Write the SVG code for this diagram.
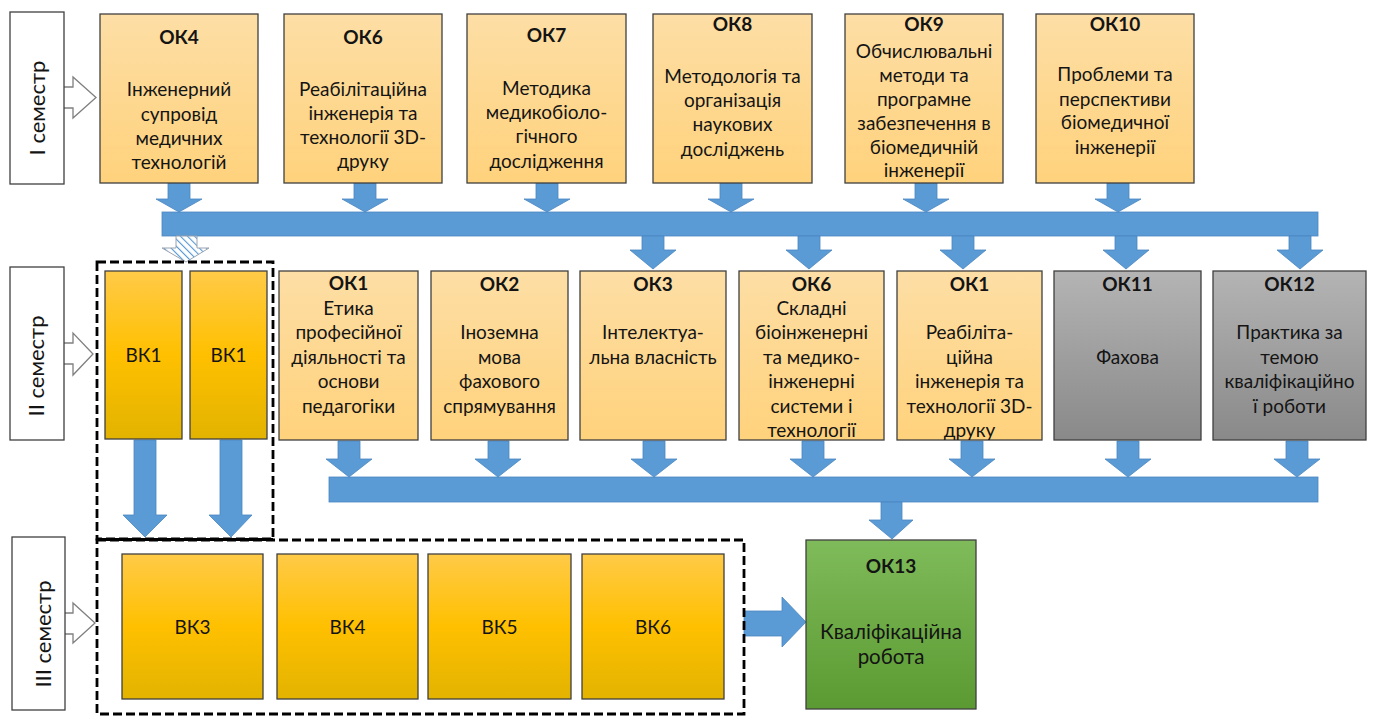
<svg xmlns="http://www.w3.org/2000/svg" width="1376" height="716" viewBox="0 0 1376 716">
<defs>
<linearGradient id="gOr" x1="0" y1="0" x2="0" y2="1"><stop offset="0" stop-color="#FDDEA5"/><stop offset="1" stop-color="#FFD27C"/></linearGradient>
<linearGradient id="gGold" x1="0" y1="0" x2="0" y2="1"><stop offset="0" stop-color="#FFCA48"/><stop offset="0.5" stop-color="#FFC000"/><stop offset="1" stop-color="#E2B300"/></linearGradient>
<linearGradient id="gGray" x1="0" y1="0" x2="0" y2="1"><stop offset="0" stop-color="#B4B4B4"/><stop offset="1" stop-color="#898989"/></linearGradient>
<linearGradient id="gGreen" x1="0" y1="0" x2="0" y2="1"><stop offset="0" stop-color="#7FBB5A"/><stop offset="1" stop-color="#5B9A32"/></linearGradient>
<pattern id="hatch" patternUnits="userSpaceOnUse" width="5" height="5" patternTransform="rotate(-45)"><rect width="5" height="5" fill="#FFFFFF"/><line x1="0" y1="0" x2="0" y2="5" stroke="#5B9BD5" stroke-width="2.2"/></pattern>
</defs>
<style>
text{font-family:Lato,"Noto Sans","Liberation Sans",sans-serif;fill:#141414;text-anchor:middle;font-size:19px}
.t{font-weight:bold;font-size:19px}
.bk{font-size:19px}
.big{font-size:20.5px}
.sem{font-size:22px}
.or{fill:url(#gOr);stroke:#404040;stroke-width:1.3}
.gold{fill:url(#gGold);stroke:#404040;stroke-width:1.3}
.gray{fill:url(#gGray);stroke:#404040;stroke-width:1.3}
.green{fill:url(#gGreen);stroke:#404040;stroke-width:1.3}
.semb{fill:#FFFFFF;stroke:#404040;stroke-width:1.3}
.sarr{fill:#FFFFFF;stroke:#7F7F7F;stroke-width:1.3}
.arr{fill:#5B9BD5;stroke:#4A86C0;stroke-width:0.8}
.dash{fill:none;stroke:#000000;stroke-width:2.8;stroke-dasharray:9 4}
</style>

<g id="semesters">
<path class="sarr" d="M64,87 H73 V77 L96,97.5 L73,118 V108 H64"/>
<rect class="semb" x="10" y="12" width="54" height="172"/>
<text class="sem" transform="translate(45,108) rotate(-90)">І семестр</text>
<path class="sarr" d="M64,343 H73 V333 L93,354 L73,375 V364 H64"/>
<rect class="semb" x="10" y="267" width="54" height="173"/>
<text class="sem" transform="translate(44,366) rotate(-90)">ІІ семестр</text>
<path class="sarr" d="M65,613 H73 V603 L95,623 L73,643 V634 H65"/>
<rect class="semb" x="12" y="537" width="53" height="173"/>
<text class="sem" transform="translate(51,634) rotate(-90)">ІІІ семестр</text>
</g>

<g id="connectors">
<rect class="arr" x="162" y="212" width="1156" height="24"/>
<rect class="arr" x="329" y="477" width="989" height="25"/>
<path class="arr" d="M168,183 H190 V199 H202 L179,212 L156,199 H168 Z"/>
<path class="arr" d="M354,183 H376 V199 H388 L365,212 L342,199 H354 Z"/>
<path class="arr" d="M536,183 H558 V199 H570 L547,212 L524,199 H536 Z"/>
<path class="arr" d="M720,183 H742 V199 H754 L731,212 L708,199 H720 Z"/>
<path class="arr" d="M915,183 H937 V199 H949 L926,212 L903,199 H915 Z"/>
<path class="arr" d="M1107,183 H1129 V199 H1141 L1118,212 L1095,199 H1107 Z"/>
<path d="M176,236 H197 V248 H209 L186,262 L162,248 H176 Z" fill="url(#hatch)" stroke="#9AA4B0" stroke-width="1"/>
<path class="arr" d="M642,236 H664 V250 H676 L653,269 L630,250 H642 Z"/>
<path class="arr" d="M798,236 H820 V250 H832 L809,269 L786,250 H798 Z"/>
<path class="arr" d="M952,236 H974 V250 H986 L963,269 L940,250 H952 Z"/>
<path class="arr" d="M1115,236 H1137 V250 H1149 L1126,269 L1103,250 H1115 Z"/>
<path class="arr" d="M1289,236 H1311 V250 H1323 L1300,269 L1277,250 H1289 Z"/>
<path class="arr" d="M338,441 H360 V459 H372 L349,477 L326,459 H338 Z"/>
<path class="arr" d="M488,441 H509 V459 H521 L498,477 L475,459 H488 Z"/>
<path class="arr" d="M643,441 H665 V459 H677 L654,477 L631,459 H643 Z"/>
<path class="arr" d="M802,441 H824 V459 H836 L813,477 L790,459 H802 Z"/>
<path class="arr" d="M961,441 H983 V459 H995 L972,477 L949,459 H961 Z"/>
<path class="arr" d="M1117,441 H1139 V459 H1151 L1128,477 L1105,459 H1117 Z"/>
<path class="arr" d="M1286,441 H1308 V459 H1320 L1297,477 L1274,459 H1286 Z"/>
<path class="arr" d="M881,502 H902 V520 H913 L892,539 L869,520 H881 Z"/>
<path class="arr" d="M134,440 H156 V515 H167 L145,537 L123,515 H134 Z"/>
<path class="arr" d="M220,440 H242 V515 H252 L231,537 L209,515 H220 Z"/>
<path class="arr" d="M744,611 H782 V597 L806,622 L782,647 V636 H744 Z"/>
</g>

<g id="groups">
<rect class="dash" x="97" y="262" width="176" height="277"/>
<rect class="dash" x="97" y="540" width="647" height="174"/>
<line x1="97" y1="539.5" x2="273" y2="539.5" stroke="#000" stroke-width="2.8"/>
</g>

<g id="ok4"><rect class="or" x="100" y="14" width="158" height="169"/>
<text class="t" x="179" y="44">ОК4</text>
<text x="179" y="96">Інженерний</text><text x="179" y="121">супровід</text><text x="179" y="145">медичних</text><text x="179" y="169">технологій</text></g>
<g id="ok6a"><rect class="or" x="284" y="14" width="158" height="169"/>
<text class="t" x="363" y="44">ОК6</text>
<text x="363" y="96">Реабілітаційна</text><text x="363" y="120">інженерія та</text><text x="363" y="144">технології 3D-</text><text x="363" y="168">друку</text></g>
<g id="ok7"><rect class="or" x="467" y="14" width="159" height="169"/>
<text class="t" x="546.5" y="42">ОК7</text>
<text x="546.5" y="95">Методика</text><text x="546.5" y="119">медикобіоло-</text><text x="546.5" y="143">гічного</text><text x="546.5" y="168">дослідження</text></g>
<g id="ok8"><rect class="or" x="653" y="14" width="159" height="169"/>
<text class="t" x="732.5" y="31">ОК8</text>
<text x="732.5" y="83">Методологія та</text><text x="732.5" y="107">організація</text><text x="732.5" y="131">наукових</text><text x="732.5" y="156">досліджень</text></g>
<g id="ok9"><rect class="or" x="845" y="14" width="158" height="169"/>
<text class="t" x="924" y="31">ОК9</text>
<text x="924" y="58">Обчислювальні</text><text x="924" y="82">методи та</text><text x="924" y="106">програмне</text><text x="924" y="130">забезпечення в</text><text x="924" y="154">біомедичній</text><text x="924" y="177">інженерії</text></g>
<g id="ok10"><rect class="or" x="1036" y="14" width="158" height="169"/>
<text class="t" x="1115" y="31">ОК10</text>
<text x="1115" y="81">Проблеми та</text><text x="1115" y="106">перспективи</text><text x="1115" y="129">біомедичної</text><text x="1115" y="154">інженерії</text></g>

<g id="vk1a"><rect class="gold" x="105" y="271" width="77" height="168"/><text class="bk" x="143.5" y="362">ВК1</text></g>
<g id="vk1b"><rect class="gold" x="190" y="271" width="77" height="168"/><text class="bk" x="228.5" y="362">ВК1</text></g>
<g id="ok1a"><rect class="or" x="279" y="271" width="139" height="169"/>
<text class="t" x="348.5" y="290">ОК1</text>
<text x="348.5" y="315">Етика</text><text x="348.5" y="339">професійної</text><text x="348.5" y="364">діяльності та</text><text x="348.5" y="388">основи</text><text x="348.5" y="413">педагогіки</text></g>
<g id="ok2"><rect class="or" x="431" y="271" width="137" height="169"/>
<text class="t" x="499.5" y="291">ОК2</text>
<text x="499.5" y="339">Іноземна</text><text x="499.5" y="364">мова</text><text x="499.5" y="388">фахового</text><text x="499.5" y="413">спрямування</text></g>
<g id="ok3"><rect class="or" x="580" y="271" width="146" height="169"/>
<text class="t" x="653" y="291">ОК3</text>
<text x="653" y="339">Інтелектуа-</text><text x="653" y="364">льна власність</text></g>
<g id="ok6b"><rect class="or" x="739" y="271" width="145" height="169"/>
<text class="t" x="811.5" y="291">ОК6</text>
<text x="811.5" y="315">Складні</text><text x="811.5" y="339">біоінженерні</text><text x="811.5" y="364">та медико-</text><text x="811.5" y="388">інженерні</text><text x="811.5" y="413">системи і</text><text x="811.5" y="437">технології</text></g>
<g id="ok1b"><rect class="or" x="897" y="271" width="145" height="169"/>
<text class="t" x="969.5" y="291">ОК1</text>
<text x="969.5" y="339">Реабіліта-</text><text x="969.5" y="364">ційна</text><text x="969.5" y="388">інженерія та</text><text x="969.5" y="413">технології 3D-</text><text x="969.5" y="437">друку</text></g>
<g id="ok11"><rect class="gray" x="1054" y="271" width="147" height="169"/>
<text class="t" x="1127.5" y="291">ОК11</text>
<text x="1127.5" y="364">Фахова</text></g>
<g id="ok12"><rect class="gray" x="1213" y="271" width="153" height="169"/>
<text class="t" x="1289.5" y="291">ОК12</text>
<text x="1289.5" y="339">Практика за</text><text x="1289.5" y="364">темою</text><text x="1289.5" y="388">кваліфікаційно</text><text x="1289.5" y="413">ї роботи</text></g>

<g id="vk3"><rect class="gold" x="122" y="554" width="141" height="145"/><text class="bk" x="192.5" y="634">ВК3</text></g>
<g id="vk4"><rect class="gold" x="277" y="554" width="141" height="145"/><text class="bk" x="347.5" y="634">ВК4</text></g>
<g id="vk5"><rect class="gold" x="428" y="554" width="143" height="145"/><text class="bk" x="499.5" y="634">ВК5</text></g>
<g id="vk6"><rect class="gold" x="582" y="554" width="142" height="145"/><text class="bk" x="653" y="634">ВК6</text></g>
<g id="ok13"><rect class="green" x="806" y="540" width="170" height="169"/>
<text class="t" x="891" y="573">ОК13</text>
<text class="big" x="891" y="639">Кваліфікаційна</text><text class="big" x="891" y="664">робота</text></g>
</svg>
